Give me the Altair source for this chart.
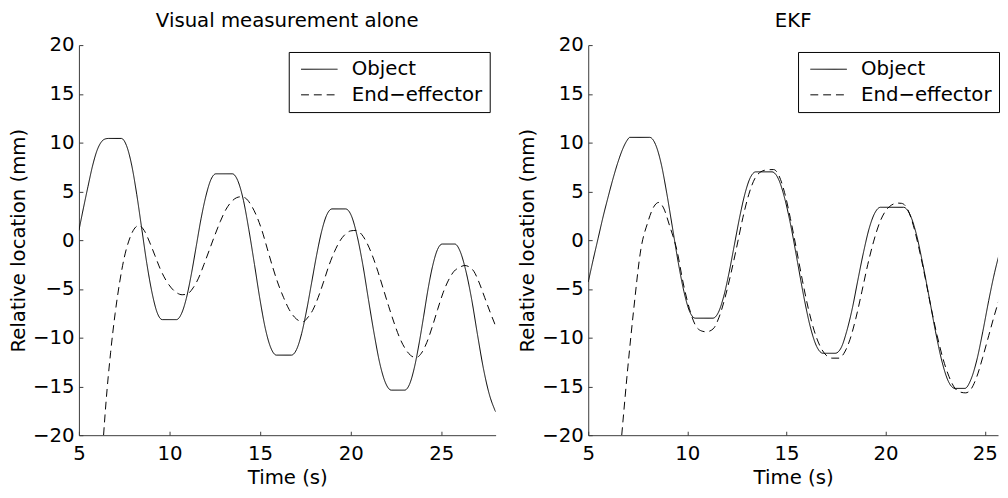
import altair as alt
import pandas as pd

SERIES = ["Object", "End\u2212effector"]
X_TICKS = [5, 10, 15, 20, 25]
Y_TICKS = [-20, -15, -10, -5, 0, 5, 10, 15, 20]

# ---- Panel 1: Visual measurement alone ----
VIS_OBJ_T = [5.0, 5.25, 5.5, 5.75, 6.0, 6.25, 6.5, 6.65, 7.34, 7.62, 7.91, 8.19, 8.47, 8.75,
             9.04, 9.32, 9.6, 10.38, 10.65, 10.93, 11.2, 11.47, 11.74, 12.02, 12.29, 12.56,
             13.47, 13.77, 14.08, 14.38, 14.69, 14.99, 15.29, 15.6, 15.9, 16.73, 17.01, 17.29,
             17.57, 17.85, 18.13, 18.41, 18.69, 18.97, 19.72, 20.04, 20.35, 20.67, 20.98, 21.3,
             21.61, 21.93, 22.24, 22.98, 23.24, 23.5, 23.76, 24.02, 24.27, 24.53, 24.79, 25.05,
             25.75, 26.03, 26.35, 26.68, 27.0, 27.33, 27.65, 28.0]
VIS_OBJ_V = [1.0, 3.3, 5.5, 7.6, 9.2, 10.1, 10.4, 10.43, 10.43, 9.72, 7.71, 4.7, 1.14, -2.42,
             -5.43, -7.44, -8.15, -8.15, -7.58, -5.96, -3.54, -0.68, 2.19, 4.61, 6.23, 6.8,
             6.8, 6.09, 4.08, 1.06, -2.5, -6.05, -9.07, -11.08, -11.79, -11.79, -11.22, -9.6,
             -7.16, -4.3, -1.43, 1.0, 2.63, 3.2, 3.2, 2.49, 0.48, -2.53, -6.09, -9.65,
             -12.66, -14.67, -15.38, -15.38, -14.81, -13.19, -10.76, -7.89, -5.02, -2.59, -0.97, -0.4,
             -0.4, -1.1, -3.1, -6.1, -9.7, -13.2, -15.8, -17.6]

VIS_EE_T = [6.36, 6.5, 6.75, 7.0, 7.25, 7.5, 7.75, 8.0, 8.3, 8.6, 8.9, 9.2, 9.5, 9.8, 10.1,
            10.4, 10.7, 11.0, 11.3, 11.6, 11.9, 12.2, 12.5, 12.8, 13.1, 13.4, 13.7, 13.95,
            14.2, 14.5, 14.8, 15.1, 15.4, 15.7, 16.0, 16.3, 16.6, 16.9, 17.2, 17.4, 17.6,
            17.9, 18.2, 18.5, 18.8, 19.1, 19.4, 19.7, 20.0, 20.3, 20.6, 20.9, 21.2, 21.5,
            21.8, 22.1, 22.4, 22.7, 23.0, 23.3, 23.6, 23.9, 24.2, 24.5, 24.8, 25.1, 25.4,
            25.7, 26.0, 26.3, 26.5, 26.8, 27.1, 27.4, 27.7, 28.0]
VIS_EE_V = [-20.0, -16.5, -11.5, -7.5, -4.3, -1.8, -0.1, 1.0, 1.5, 1.0, -0.2, -1.6, -3.0, -4.1, -4.9,
            -5.4, -5.6, -5.5, -4.9, -3.9, -2.5, -1.0, 0.5, 1.9, 3.1, 3.9, 4.35, 4.45,
            4.3, 3.6, 2.5, 1.0, -0.9, -2.8, -4.5, -5.9, -7.1, -7.9, -8.3, -8.35, -8.0,
            -7.2, -5.9, -4.3, -2.6, -1.2, -0.1, 0.6, 0.95, 1.0, 0.6, -0.3, -1.6, -3.2,
            -5.0, -6.8, -8.5, -10.0, -11.1, -11.8, -12.05, -11.6, -10.5, -8.9, -7.1, -5.4, -4.1,
            -3.2, -2.8, -2.6, -2.7, -3.2, -4.4, -5.9, -7.4, -8.8]

# ---- Panel 2: EKF ----
EKF_OBJ_T = [5.0, 5.25, 5.5, 5.75, 6.0, 6.25, 6.5, 6.75, 6.95, 7.1, 8.1, 8.39, 8.68, 8.96,
             9.25, 9.54, 9.83, 10.11, 10.4, 11.29, 11.56, 11.83, 12.1, 12.37, 12.64, 12.91,
             13.18, 13.45, 14.27, 14.59, 14.91, 15.24, 15.56, 15.88, 16.2, 16.52, 16.84,
             17.46, 17.75, 18.03, 18.32, 18.6, 18.89, 19.17, 19.46, 19.74, 20.9, 21.22, 21.55,
             21.87, 22.2, 22.52, 22.85, 23.17, 23.5, 24.0, 24.3, 24.6, 24.9, 25.2, 25.5, 25.8, 26.0]
EKF_OBJ_V = [-4.3, -2.0, 0.2, 2.4, 4.4, 6.3, 8.0, 9.4, 10.2, 10.54, 10.54, 9.83, 7.83, 4.82,
             1.27, -2.28, -5.29, -7.29, -8.0, -8.0, -7.43, -5.8, -3.37, -0.5, 2.37, 4.8,
             6.43, 7.0, 7.0, 6.29, 4.28, 1.26, -2.3, -5.86, -8.88, -10.89, -11.6,
             -11.6, -11.06, -9.4, -7.0, -4.1, -1.2, 1.2, 2.8, 3.37, 3.37, 2.66, 0.62,
             -2.4, -5.9, -9.4, -12.5, -14.5, -15.2, -15.2, -14.3, -12.3, -9.4, -6.2, -3.3, -1.0, 0.0]

EKF_EE_T = [6.69, 7.0, 7.3, 7.65, 8.0, 8.3, 8.56, 8.8, 9.1, 9.47, 9.8, 10.1, 10.4, 10.7, 10.96,
            11.3, 11.6, 11.9, 12.2, 12.5, 12.8, 13.1, 13.4, 13.7, 14.0, 14.35, 14.6, 14.9,
            15.2, 15.5, 15.8, 16.1, 16.4, 16.7, 17.0, 17.3, 17.67, 17.9, 18.2, 18.5, 18.8,
            19.1, 19.4, 19.7, 20.0, 20.3, 20.6, 20.81, 21.1, 21.4, 21.7, 22.0, 22.3, 22.6,
            22.9, 23.2, 23.5, 23.8, 24.04, 24.3, 24.6, 24.9, 25.2, 25.5, 25.8, 26.0]
EKF_EE_V = [-20.0, -13.0, -7.0, -1.0, 1.8, 3.4, 3.87, 3.3, 1.5, -1.0, -4.5, -7.0, -8.7, -9.3, -9.4,
            -9.1, -7.9, -5.9, -3.4, -0.6, 2.3, 4.7, 6.3, 7.0, 7.2, 7.24, 6.7, 4.9,
            2.2, -0.9, -4.1, -7.0, -9.3, -10.9, -11.8, -12.1, -12.1, -11.6, -10.2, -8.0, -5.3,
            -2.5, -0.1, 1.8, 3.0, 3.6, 3.8, 3.77, 3.2, 1.5, -1.0, -3.9, -7.0, -9.8,
            -12.2, -14.0, -15.2, -15.6, -15.66, -15.3, -14.0, -12.0, -9.8, -7.6, -5.6, -4.3]

FONT = "DejaVu Sans"
AXIS_COLOR = "#3a3a3a"
LEGEND_SYMBOL = "M-1.85,0H1.85"


def make_df(obj_t, obj_v, ee_t, ee_v):
    return pd.DataFrame({
        "t": obj_t + ee_t,
        "v": obj_v + ee_v,
        "s": [SERIES[0]] * len(obj_t) + [SERIES[1]] * len(ee_t),
    })


def panel(title, df, xmax, width):
    return alt.Chart(
        df,
        title=alt.TitleParams(title, font=FONT, fontSize=20, fontWeight="normal",
                              color="black", anchor="middle", offset=4),
    ).mark_line(interpolate="monotone", clip=True, color="black", strokeWidth=1).encode(
        x=alt.X("t:Q",
                scale=alt.Scale(domain=[5, xmax], nice=False, zero=False),
                axis=alt.Axis(values=X_TICKS, title="Time (s)", labelPadding=13,
                              titlePadding=4)),
        y=alt.Y("v:Q",
                scale=alt.Scale(domain=[-20, 20], nice=False, zero=False),
                axis=alt.Axis(values=Y_TICKS, title="Relative location (mm)",
                              labelPadding=9, titlePadding=4)),
        strokeDash=alt.StrokeDash(
            "s:N",
            scale=alt.Scale(domain=SERIES, range=[[1, 0], [8, 5]]),
            legend=alt.Legend(
                title=None, orient="none", legendX=213, legendY=7,
                fillColor="white", strokeColor="black", padding=7, cornerRadius=0,
                symbolType=LEGEND_SYMBOL, symbolSize=400, symbolStrokeWidth=1,
                symbolStrokeColor="black", symbolOffset=13.5,
                labelFont=FONT, labelFontSize=20, labelColor="black",
                labelOffset=22.5, rowPadding=5, labelLimit=300,
            ),
        ),
    ).properties(width=width, height=396)


left = panel("Visual measurement alone",
             make_df(VIS_OBJ_T, VIS_OBJ_V, VIS_EE_T, VIS_EE_V), 28, 423)
right = panel("EKF",
              make_df(EKF_OBJ_T, EKF_OBJ_V, EKF_EE_T, EKF_EE_V), 25.67, 416)

chart = alt.hconcat(left, right, spacing=22).resolve_scale(
    strokeDash="independent", x="independent", y="independent"
).resolve_legend(strokeDash="independent").properties(
    padding={"left": 0, "top": 0, "right": 0, "bottom": 0}
).configure_axis(
    grid=False,
    domainColor=AXIS_COLOR, domainWidth=1,
    tickColor=AXIS_COLOR, tickWidth=1, tickSize=alt.ExprRef("-4"),
    labelFont=FONT, labelFontSize=20, labelColor="black",
    titleFont=FONT, titleFontSize=20, titleFontWeight="normal", titleColor="black",
    labelFlush=False, labelOverlap=False,
).configure_view(stroke=None)

chart.save("out.html", embed_options={"renderer": "svg", "actions": False})
